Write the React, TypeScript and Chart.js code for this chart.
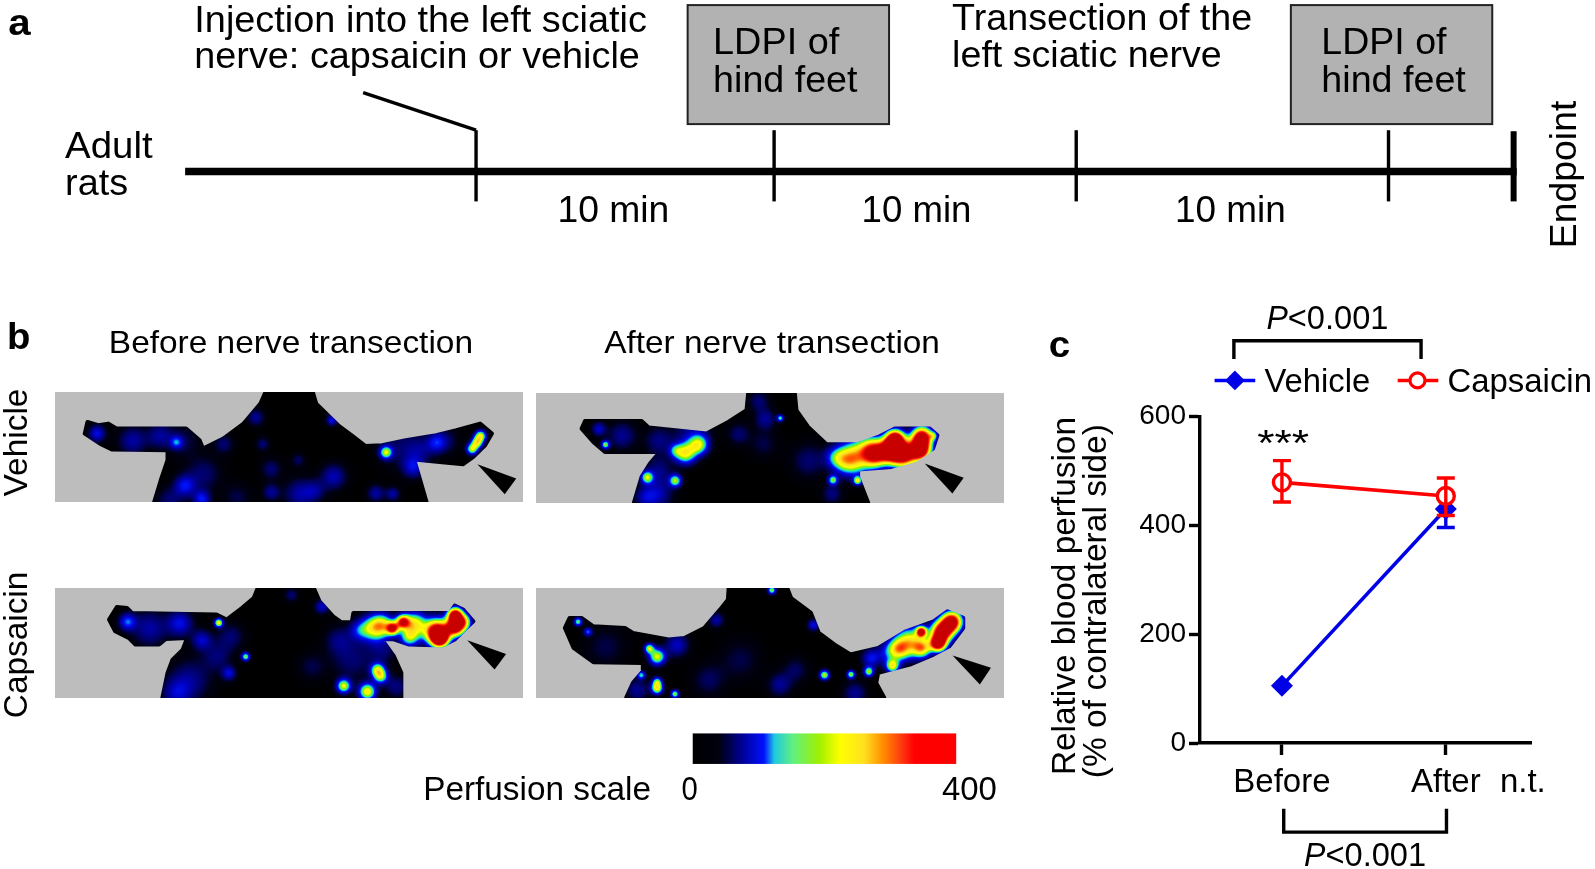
import React, { useEffect, useRef } from "react";
import { Chart, registerables } from "chart.js";

Chart.register(...registerables);

// ---- panel c data ----
const conditionPositions = [1, 2, 2.47];
const conditionLabels = ["Before", "After", "n.t."];
const vehicleValues = [105, 430];
const vehicleLow = [105, 396];
const vehicleHigh = [105, 458];
const capsaicinValues = [479, 454];
const capsaicinLow = [443, 418];
const capsaicinHigh = [519, 487];
const yTicks = [0, 200, 400, 600];

// ---- perfusion colour scale ----
const scaleStops: [number, number, number, number][] = [
  [0, 0, 0, 0],
  [0.05, 0, 0, 20],
  [0.1, 0, 0, 90],
  [0.2, 0, 0, 190],
  [0.28, 0, 20, 255],
  [0.34, 0, 190, 230],
  [0.4, 60, 240, 130],
  [0.47, 150, 240, 0],
  [0.54, 255, 255, 0],
  [0.66, 250, 220, 30],
  [0.74, 255, 130, 0],
  [0.84, 255, 20, 10],
  [0.92, 215, 0, 0],
  [1, 200, 0, 0],
];

type Spot = number[];
type Panel = {
  origin: [number, number];
  sx: number;
  sy: number;
  x0: number;
  y0: number;
  outline: number[][];
  spots: Spot[];
  arrow: number[][];
};

const outlineA = [[785,275],[925,275],[935,310],[975,350],[1000,375],[1040,405],[1080,437],[1130,435],[1200,420],[1290,405],[1350,390],[1420,370],[1455,400],[1435,435],[1400,470],[1370,492],[1300,485],[1225,478],[1240,530],[1262,607],[455,607],[475,540],[495,480],[495,450],[330,448],[295,430],[250,400],[258,365],[290,375],[320,370],[345,385],[550,385],[590,420],[600,445],[660,415],[720,370],[770,310]];
const spotsA = [[285,398,12,.28],[390,420,20,.2],[470,405,18,.18],[520,425,9,.3],[540,420,25,.1],[775,430,10,.14],[800,505,15,.14],[880,478,10,.12],[985,528,18,.22],[545,555,15,.28],[595,595,12,.3],[600,520,25,.14],[885,580,22,.2],[930,570,15,.14],[1110,578,12,.2],[1160,580,10,.2],[800,575,12,.18],[755,350,12,.18],[980,358,8,.28],[1220,500,15,.24],[1140,455,9,.48],[1290,425,14,.26],[1240,450,20,.14],[1180,440,30,.12],[1320,420,20,.1],[1420,405,8,.52],[1410,425,8,.54],[1395,445,8,.5],[660,430,14,.14],[500,600,20,.14],[700,590,20,.1]];
const arrowA = [[1412,492],[1527,535],[1493,582]];

const outlineB = [[670,278],[810,278],[815,330],[850,380],[905,432],[1000,432],[1060,410],[1110,385],[1215,385],[1238,405],[1225,445],[1170,480],[1100,500],[1000,508],[1000,530],[1030,607],[327,607],[350,530],[375,490],[405,455],[240,455],[205,425],[170,385],[180,362],[350,362],[372,382],[545,400],[610,365],[665,330]];
const spotsB = [[1110,415,15,1.1],[1095,450,20,1.1],[1135,460,20,1.1],[1190,410,17,1.1],[1185,450,17,1.1],[1040,445,18,.58],[990,470,24,.56],[1050,470,16,.48],[960,480,18,.34],[480,458,15,.52],[520,432,14,.46],[450,450,10,.28],[240,432,6,.44],[220,385,10,.24],[290,405,20,.18],[450,540,9,.46],[365,530,9,.46],[923,538,7,.42],[997,540,6,.52],[765,352,5,.38],[720,355,15,.18],[700,300,15,.14],[715,430,20,.1],[850,480,25,.14],[400,580,20,.2],[500,400,25,.18],[400,420,20,.16],[930,470,15,.26],[1225,405,6,.34],[400,510,20,.16],[360,590,16,.2],[640,400,16,.14],[920,580,14,.16]];
const arrowB = [[1200,490],[1317,533],[1283,580]];

const outlineC = [[762,85],[928,85],[945,125],[985,170],[1010,188],[1040,188],[1045,160],[1330,160],[1345,138],[1370,150],[1400,185],[1380,205],[1345,240],[1310,258],[1210,255],[1160,238],[1130,240],[1165,290],[1187,340],[1187,414],[480,414],[495,340],[510,300],[540,270],[553,235],[490,238],[470,255],[400,255],[380,235],[340,215],[322,180],[345,142],[375,145],[390,160],[640,165],[670,180],[715,145],[750,115]];
const spotsC = [[1290,215,20,1.1],[1300,235,13,1.1],[1345,165,12,1.1],[1345,200,15,1.1],[1190,185,11,.84],[1160,205,10,.84],[1225,190,16,.54],[1100,205,18,.44],[1130,195,16,.48],[1210,230,14,.46],[1370,185,11,.54],[645,188,6,.56],[375,185,12,.34],[530,190,18,.28],[440,205,25,.2],[725,290,6,.44],[595,240,14,.24],[675,340,10,.26],[1115,330,10,.48],[1125,350,10,.42],[1015,378,10,.52],[1085,395,12,.58],[560,360,30,.17],[860,105,10,.14],[950,140,10,.24],[680,230,20,.14],[1040,300,30,.14],[1130,270,20,.14],[920,320,20,.1],[1000,240,20,.14],[520,400,20,.2],[640,290,20,.14],[1170,380,16,.16],[1060,210,14,.22]];
const arrowC = [[1382,242],[1497,283],[1463,330]];

const outlineD = [[832,55],[980,55],[990,85],[1040,130],[1060,190],[1100,225],[1140,255],[1210,235],[1280,185],[1350,155],[1385,125],[1425,145],[1425,175],[1390,230],[1350,255],[1290,285],[1210,310],[1205,340],[1225,384],[573,384],[590,340],[615,305],[615,280],[490,278],[440,235],[418,175],[430,145],[460,145],[490,170],[570,175],[590,190],[680,210],[720,205],[770,175],[810,120],[830,90]];
const spotsD = [[1370,185,15,1.1],[1395,155,14,1.1],[1360,220,11,1.1],[1318,185,7,.98],[1290,215,18,.56],[1260,238,13,.52],[1320,235,11,.52],[1245,288,8,.54],[1185,305,6,.46],[1140,313,5,.46],[1073,315,6,.5],[650,260,10,.52],[630,235,6,.46],[650,355,7,.56],[650,335,6,.38],[695,372,5,.46],[450,155,5,.42],[475,185,5,.34],[610,315,5,.36],[700,225,14,.24],[960,345,14,.18],[1190,265,11,.28],[940,60,5,.46],[1045,165,7,.28],[860,270,25,.1],[800,150,9,.2],[520,230,25,.1],[1150,370,14,.18],[1230,250,14,.2],[600,360,14,.18],[780,330,20,.12],[1000,300,16,.12]];
const arrowD = [[1398,258],[1495,295],[1467,345]];

const S = 1595 / 1568;
const FONT = '"Liberation Sans", Arial, sans-serif';

const panels: Panel[] = [
  { origin: [162, 275], sx: 1385 / 460, sy: 332 / 109, x0: 54, y0: 385, outline: outlineA, spots: spotsA, arrow: arrowA },
  { origin: [33, 278], sx: 1405 / 460, sy: 329 / 108, x0: 527, y0: 386, outline: outlineB, spots: spotsB, arrow: arrowB },
  { origin: [162, 85], sx: 1385 / 460, sy: 329 / 108, x0: 54, y0: 578, outline: outlineC, spots: spotsC, arrow: arrowC },
  { origin: [345, 55], sx: 1183 / 460, sy: 329 / 108, x0: 527, y0: 578, outline: outlineD, spots: spotsD, arrow: arrowD },
];
const PANEL_W = 460;
const PANEL_H = 108.5;

function colourAt(v: number): [number, number, number] {
  const t = Math.max(0, Math.min(1, v));
  for (let i = 1; i < scaleStops.length; i++) {
    const a = scaleStops[i - 1];
    const b = scaleStops[i];
    if (t <= b[0]) {
      const k = (t - a[0]) / (b[0] - a[0]);
      return [a[1] + (b[1] - a[1]) * k, a[2] + (b[2] - a[2]) * k, a[3] + (b[3] - a[3]) * k];
    }
  }
  const l = scaleStops[scaleStops.length - 1];
  return [l[1], l[2], l[3]];
}

function fit(ctx: CanvasRenderingContext2D, s: string, xl: number, xr: number, base: number, size: number, style = "") {
  ctx.save();
  ctx.font = `${style} ${size}px ${FONT}`;
  ctx.textAlign = "left";
  ctx.textBaseline = "alphabetic";
  ctx.fillStyle = "#000";
  const w = ctx.measureText(s).width;
  ctx.translate(xl * S, base * S);
  ctx.scale(((xr - xl) * S) / w, 1);
  ctx.fillText(s, 0, 0);
  ctx.restore();
}

function fitUp(ctx: CanvasRenderingContext2D, s: string, yBottom: number, yTop: number, base: number, size: number) {
  ctx.save();
  ctx.font = `${size}px ${FONT}`;
  ctx.textAlign = "left";
  ctx.textBaseline = "alphabetic";
  ctx.fillStyle = "#000";
  const w = ctx.measureText(s).width;
  ctx.translate(base * S, yBottom * S);
  ctx.rotate(-Math.PI / 2);
  ctx.scale(((yBottom - yTop) * S) / w, 1);
  ctx.fillText(s, 0, 0);
  ctx.restore();
}

function seg(ctx: CanvasRenderingContext2D, pts: number[][], width: number, color = "#000") {
  ctx.save();
  ctx.strokeStyle = color;
  ctx.lineWidth = width;
  ctx.lineCap = "butt";
  ctx.lineJoin = "miter";
  ctx.beginPath();
  pts.forEach((p, i) => (i ? ctx.lineTo(p[0] * S, p[1] * S) : ctx.moveTo(p[0] * S, p[1] * S)));
  ctx.stroke();
  ctx.restore();
}

function drawPanel(ctx: CanvasRenderingContext2D, p: Panel) {
  const W = Math.round(PANEL_W * S);
  const H = Math.round(PANEL_H * S);
  const px = Math.round(p.x0 * S);
  const py = Math.round(p.y0 * S);
  const fx = (W / PANEL_W) / p.sx;
  const fy = (H / PANEL_H) / p.sy;
  const off = document.createElement("canvas");
  off.width = W;
  off.height = H;
  const o = off.getContext("2d")!;
  const img = o.createImageData(W, H);
  for (let y = 0; y < H; y++) {
    for (let x = 0; x < W; x++) {
      let v = 0;
      for (const s of p.spots) {
        const dx = (s[0] - p.origin[0]) * fx - x;
        const dy = (s[1] - p.origin[1]) * fy - y;
        const r = s[2] * fx * (s[3] >= 0.8 ? 1.25 : 1.45);
        const a = s[3] < 0.35 ? s[3] * 0.85 : s[3];
        v += a * Math.exp(-(dx * dx + dy * dy) / (2 * r * r));
      }
      const c = colourAt(v);
      const k = (y * W + x) * 4;
      img.data[k] = c[0];
      img.data[k + 1] = c[1];
      img.data[k + 2] = c[2];
      img.data[k + 3] = 255;
    }
  }
  o.putImageData(img, 0, 0);
  const pts = p.outline.map((q) => [(q[0] - p.origin[0]) * fx, (q[1] - p.origin[1]) * fy]);
  const mask = document.createElement("canvas");
  mask.width = W;
  mask.height = H;
  const m = mask.getContext("2d")!;
  m.beginPath();
  pts.forEach((q, i) => (i ? m.lineTo(q[0], q[1]) : m.moveTo(q[0], q[1])));
  m.closePath();
  m.fillStyle = "#000";
  m.strokeStyle = "#000";
  m.lineWidth = 4;
  m.lineJoin = "round";
  m.fill();
  m.stroke();
  o.globalCompositeOperation = "destination-in";
  o.drawImage(mask, 0, 0);
  o.globalCompositeOperation = "destination-over";
  o.fillStyle = "#bdbdbd";
  o.fillRect(0, 0, W, H);
  o.globalCompositeOperation = "source-over";
  o.beginPath();
  p.arrow.forEach((q, i) => {
    const X = (q[0] - p.origin[0]) * fx;
    const Y = (q[1] - p.origin[1]) * fy;
    i ? o.lineTo(X, Y) : o.moveTo(X, Y);
  });
  o.closePath();
  o.fillStyle = "#000";
  o.fill();
  ctx.drawImage(off, px, py);
}

function drawTimeline(ctx: CanvasRenderingContext2D) {
  fit(ctx, "a", 8, 30, 34, 37, "bold");
  for (const bx of [676, 1269]) {
    ctx.fillStyle = "#b2b2b2";
    ctx.strokeStyle = "#222";
    ctx.lineWidth = 2;
    ctx.fillRect(bx * S, 5 * S, 198 * S, 117 * S);
    ctx.strokeRect(bx * S, 5 * S, 198 * S, 117 * S);
  }
  seg(ctx, [[182, 168.5], [1491, 168.5]], 7.5);
  for (const tx of [468, 761, 1058, 1365]) seg(ctx, [[tx, 128], [tx, 198]], 3.4);
  seg(ctx, [[1488, 129], [1488, 198]], 6);
  seg(ctx, [[357, 91], [468, 128]], 3.4);
  fit(ctx, "Injection into the left sciatic", 191, 636, 31, 37);
  fit(ctx, "nerve: capsaicin or vehicle", 191, 629, 67, 37);
  fit(ctx, "LDPI of", 701, 825, 53, 37);
  fit(ctx, "hind feet", 701, 843, 90, 37);
  fit(ctx, "Transection of the", 936, 1231, 29.5, 37);
  fit(ctx, "left sciatic nerve", 936, 1201, 66, 37);
  fit(ctx, "LDPI of", 1299, 1422, 53, 37);
  fit(ctx, "hind feet", 1299, 1441, 90, 37);
  fit(ctx, "Adult", 64, 150, 155, 37);
  fit(ctx, "rats", 64, 126, 192, 37);
  fit(ctx, "10 min", 548, 658, 218, 37);
  fit(ctx, "10 min", 847, 955, 218, 37);
  fit(ctx, "10 min", 1155, 1264, 218, 37);
  fitUp(ctx, "Endpoint", 244, 99, 1549, 37);
}

const scaleBarStops: [number, string][] = [
  [0, "#000"],
  [0.1, "#000010"],
  [0.18, "#00008c"],
  [0.27, "#0010ff"],
  [0.31, "#20c8e0"],
  [0.38, "#60f080"],
  [0.48, "#a0f000"],
  [0.56, "#ffff00"],
  [0.65, "#ffe020"],
  [0.72, "#ff9000"],
  [0.8, "#ff3010"],
  [0.84, "#ff0000"],
  [1, "#ff0000"],
];

function drawHeatmaps(ctx: CanvasRenderingContext2D) {
  fit(ctx, "b", 7, 30, 343, 37, "bold");
  fit(ctx, "Before nerve transection", 107, 465, 347, 32);
  fit(ctx, "After nerve transection", 594, 924, 347, 32);
  fitUp(ctx, "Vehicle", 488, 382, 27, 34);
  fitUp(ctx, "Capsaicin", 706, 562, 27, 34);
  panels.forEach((p) => drawPanel(ctx, p));
  const bx = 681 * S;
  const bw = 259 * S;
  const g = ctx.createLinearGradient(bx, 0, bx + bw, 0);
  scaleBarStops.forEach((s) => g.addColorStop(s[0], s[1]));
  ctx.fillStyle = g;
  ctx.fillRect(bx, 721 * S, bw, 30 * S);
  fit(ctx, "Perfusion scale", 416, 640, 786, 33);
  fit(ctx, "0", 670, 686, 786, 33);
  fit(ctx, "400", 926, 980, 786, 33);
}

function pValue(ctx: CanvasRenderingContext2D, xl: number, xMid: number, xr: number, base: number) {
  fit(ctx, "P", xl, xMid, base, 33, "italic");
  fit(ctx, "<0.001", xMid, xr, base, 33);
}

function drawChartNotes(ctx: CanvasRenderingContext2D) {
  fit(ctx, "c", 1031, 1052, 351, 37, "bold");
  pValue(ctx, 1245, 1266, 1365, 323);
  seg(ctx, [[1213, 353], [1213, 335], [1397, 335], [1397, 353]], 3.4);
  seg(ctx, [[1194, 374], [1234, 374]], 3.4, "#0000ff");
  ctx.save();
  ctx.fillStyle = "#0000e6";
  ctx.translate(1214 * S, 374 * S);
  ctx.rotate(Math.PI / 4);
  ctx.fillRect(-7, -7, 14, 14);
  ctx.restore();
  fit(ctx, "Vehicle", 1243, 1347, 385, 33);
  seg(ctx, [[1374, 374], [1414, 374]], 3.4, "#ff0000");
  ctx.save();
  ctx.fillStyle = "#fff";
  ctx.strokeStyle = "#ff0000";
  ctx.lineWidth = 3.2;
  ctx.beginPath();
  ctx.arc(1393.5 * S, 374 * S, 7.5, 0, Math.PI * 2);
  ctx.fill();
  ctx.stroke();
  ctx.restore();
  fit(ctx, "Capsaicin", 1423, 1565, 385, 33);
  fit(ctx, "***", 1236, 1287, 448, 36);
  fitUp(ctx, "Relative blood perfusion", 762, 410, 1057, 33);
  fitUp(ctx, "(% of contralateral side)", 765, 417, 1087, 33);
  seg(ctx, [[1262, 795], [1262, 818], [1422, 818], [1422, 795]], 3.4);
  pValue(ctx, 1282, 1303, 1402, 851);
}

function errorBars(ctx: CanvasRenderingContext2D, chart: any, low: number[], high: number[], color: string) {
  const xs = chart.scales.x;
  const ys = chart.scales.y;
  ctx.save();
  ctx.strokeStyle = color;
  ctx.lineWidth = 3.4;
  low.forEach((l, i) => {
    const h = high[i];
    if (h === l) return;
    const x = xs.getPixelForValue(conditionPositions[i]);
    const yl = ys.getPixelForValue(l);
    const yh = ys.getPixelForValue(h);
    ctx.beginPath();
    ctx.moveTo(x, yl);
    ctx.lineTo(x, yh);
    ctx.moveTo(x - 9, yl);
    ctx.lineTo(x + 9, yl);
    ctx.moveTo(x - 9, yh);
    ctx.lineTo(x + 9, yh);
    ctx.stroke();
  });
  ctx.restore();
}

const figurePlugin = {
  id: "figure",
  beforeDraw(chart: any) {
    const ctx = chart.ctx;
    ctx.save();
    ctx.fillStyle = "#fff";
    ctx.fillRect(0, 0, chart.width, chart.height);
    ctx.restore();
    drawTimeline(ctx);
    drawHeatmaps(ctx);
    drawChartNotes(ctx);
  },
  afterDatasetDraw(chart: any, args: any) {
    if (args.index === 0) errorBars(chart.ctx, chart, vehicleLow, vehicleHigh, "#0000e6");
    if (args.index === 1) errorBars(chart.ctx, chart, capsaicinLow, capsaicinHigh, "#ff0000");
  },
};

export default function App() {
  const ref = useRef<HTMLCanvasElement>(null);
  useEffect(() => {
    const chart = new Chart(ref.current!, {
      type: "line",
      plugins: [figurePlugin],
      data: {
        datasets: [
          {
            label: "Vehicle",
            data: vehicleValues.map((y, i) => ({ x: conditionPositions[i], y })),
            borderColor: "#0000e6",
            backgroundColor: "#0000e6",
            borderWidth: 3.6,
            pointStyle: "rectRot",
            pointRadius: 11,
            pointBorderWidth: 0,
            order: 2,
          },
          {
            label: "Capsaicin",
            data: capsaicinValues.map((y, i) => ({ x: conditionPositions[i], y })),
            borderColor: "#ff0000",
            backgroundColor: "#fff",
            borderWidth: 3.6,
            pointStyle: "circle",
            pointRadius: 8.5,
            pointBorderWidth: 3.4,
            order: 1,
          },
        ],
      } as any,
      options: {
        responsive: false,
        animation: false,
        layout: { padding: { left: 1140, right: 64, top: 416.5, bottom: 76 } },
        plugins: { legend: { display: false }, tooltip: { enabled: false }, title: { display: false } },
        scales: {
          x: {
            type: "linear",
            min: 0.5,
            max: 2.52,
            afterBuildTicks: (s: any) => {
              s.ticks = conditionPositions.map((value) => ({ value }));
            },
            afterFit: (s: any) => {
              s.height = 50;
            },
            border: { color: "#000", width: 3.4 },
            grid: {
              drawOnChartArea: false,
              tickLength: 12,
              tickWidth: 3.4,
              tickColor: (c: any) => (c.index === 2 ? "rgba(0,0,0,0)" : "#000"),
            },
            ticks: {
              autoSkip: false,
              maxRotation: 0,
              color: "#000",
              padding: 8,
              font: { family: "Liberation Sans", size: 33 },
              callback: (v: any) => conditionLabels[conditionPositions.indexOf(v)],
            },
          },
          y: {
            min: 0,
            max: 600,
            afterBuildTicks: (s: any) => {
              s.ticks = yTicks.map((value) => ({ value }));
            },
            afterFit: (s: any) => {
              s.width = 60;
            },
            border: { color: "#000", width: 3.4 },
            grid: { drawOnChartArea: false, tickLength: 11, tickWidth: 3.4, tickColor: "#000" },
            ticks: {
              color: "#000",
              padding: 3,
              font: { family: "Liberation Sans", size: 28 },
            },
          },
        },
      } as any,
    });
    return () => chart.destroy();
  }, []);
  return (
    <canvas
      ref={ref}
      width={1595}
      height={869}
      style={{ position: "absolute", left: 0, top: 0, display: "block" }}
    />
  );
}
